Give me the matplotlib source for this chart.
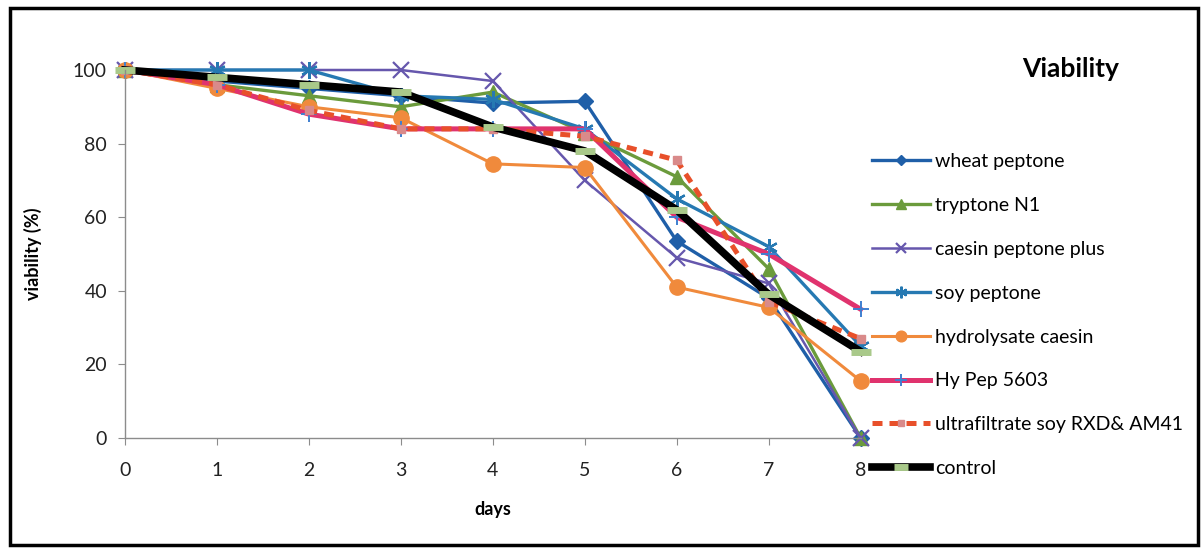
import matplotlib.pyplot as plt
from matplotlib.patches import Rectangle

plt.rcParams['font.family'] = ['Lato', 'DejaVu Sans']

# data
days = [0, 1, 2, 3, 4, 5, 6, 7, 8]
wheat_peptone = [100, 97, 95, 93, 91, 91.5, 53.5, 38, 0]
tryptone_n1 = [100, 96, 93, 90, 94, 83, 71, 46, 0]
caesin_peptone_plus = [100, 100, 100, 100, 97, 70, 49, 42, 0]
soy_peptone = [100, 100, 100, 93, 92, 84, 65, 52, 25]
hydrolysate_caesin = [100, 95, 90, 87, 74.5, 73.5, 41, 35.5, 15.5]
hy_pep_5603 = [100, 96, 88, 84, 84, 84, 60, 50, 35]
ultrafiltrate_soy = [100, 96, 89, 84, 84, 82, 75.5, 37, 27]
control = [100, 98, 96, 94, 84.5, 78, 62, 39, 23.5]

series = [
    ("wheat peptone", wheat_peptone, dict(color="#1f5fa8", lw=2.4, marker="D", ms=8, mfc="#1f5fa8", mec="#1f5fa8")),
    ("tryptone N1", tryptone_n1, dict(color="#6b9b3c", lw=2.4, marker="^", ms=10, mfc="#6b9b3c", mec="#6b9b3c")),
    ("caesin peptone plus", caesin_peptone_plus, dict(color="#6657ad", lw=1.8, marker="x", ms=11, mew=1.6, mec="#6657ad")),
    ("soy peptone", soy_peptone, dict(color="#2679b2", lw=2.4, marker=(6, 2, 0), ms=12, mew=1.6, mec="#2679b2")),
    ("hydrolysate caesin", hydrolysate_caesin, dict(color="#f08a3c", lw=2.2, marker="o", ms=11, mfc="#f08a3c", mec="#f08a3c")),
    ("Hy Pep 5603", hy_pep_5603, dict(color="#e0336e", lw=3.6, marker="+", ms=12, mew=1.4, mec="#3f7fd0")),
    ("ultrafiltrate soy RXD& AM41", ultrafiltrate_soy, dict(color="#e8502a", lw=3.6, ls=(0, (2.0, 1.4)), marker="s", ms=6, mfc="#d98a8a", mec="#d98a8a")),
    ("control", control, dict(color="black", lw=5.5, marker="_", ms=14, mew=5, mec="#a9c98a")),
]

fig = plt.figure(figsize=(12.03, 5.49), dpi=100)
ax = fig.add_axes([0.1039, 0.2022, 0.6115, 0.6703])

for name, vals, style in series:
    ax.plot(days, vals, label=name, clip_on=False, **style)

ax.set_xlim(0, 8)
ax.set_ylim(0, 100)
ax.set_xticks(days)
ax.set_yticks([0, 20, 40, 60, 80, 100])
for s in ["top", "right"]:
    ax.spines[s].set_visible(False)
for s in ["left", "bottom"]:
    ax.spines[s].set_color("#8c8c8c")
    ax.spines[s].set_linewidth(1.0)
ax.tick_params(colors="#8c8c8c", labelcolor="#222222", labelsize=14, length=5, direction="out")
ax.tick_params(axis="x", pad=12)
ax.tick_params(axis="y", pad=8)
ax.set_xlabel("days", fontsize=13, fontweight="bold", labelpad=16)
ax.set_ylabel("viability (%)", fontsize=13, fontweight="bold", labelpad=22)

fig.text(0.89, 0.875, "Viability", fontsize=19, fontweight="bold", ha="center", va="center")

fig.legend(loc="upper left", bbox_to_anchor=(0.718, 0.735), frameon=False,
           fontsize=14, handlelength=3.0, handletextpad=0.25, labelspacing=1.38,
           markerscale=0.7, borderaxespad=0)

fig.patches.append(Rectangle((0.008, 0.008), 0.988, 0.978, transform=fig.transFigure,
                             fill=False, edgecolor="black", lw=2.5))

fig.savefig("out.png", dpi=100)
